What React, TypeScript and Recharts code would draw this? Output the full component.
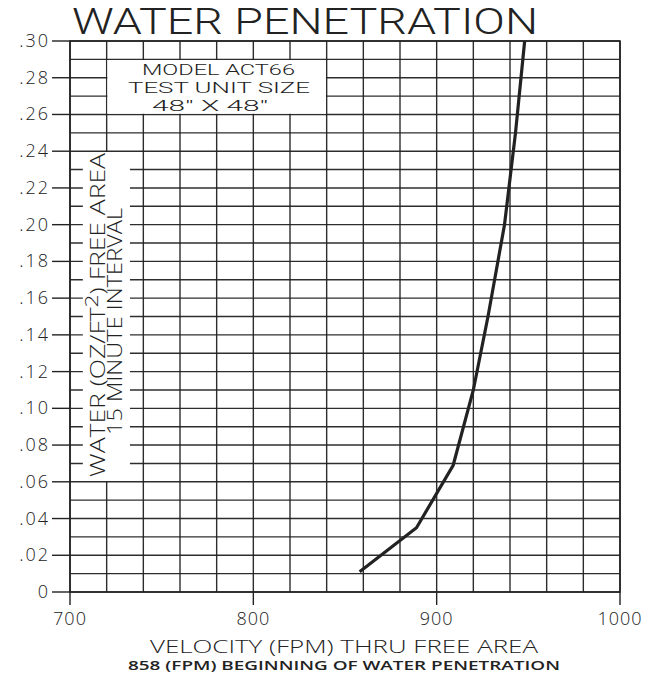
import { LineChart, Line, XAxis, YAxis, CartesianGrid, ReferenceArea } from "recharts";

// curve
const velocity = [858, 889, 909, 920, 928, 937, 943, 946, 948];
const water = [0.011, 0.035, 0.069, 0.11, 0.15, 0.2, 0.25, 0.28, 0.3];

// grid ticks (every 20 FPM / every .01)
const xTicks = [700, 720, 740, 760, 780, 800, 820, 840, 860, 880, 900, 920, 940, 960, 980, 1000];
const xLabels = [700, 800, 900, 1000];
const yTicks = [
  0, 0.01, 0.02, 0.03, 0.04, 0.05, 0.06, 0.07, 0.08, 0.09, 0.1, 0.11, 0.12, 0.13, 0.14, 0.15,
  0.16, 0.17, 0.18, 0.19, 0.2, 0.21, 0.22, 0.23, 0.24, 0.25, 0.26, 0.27, 0.28, 0.29, 0.3,
];

const data = velocity.map((v, i) => ({ velocity: v, water: water[i] }));

const INK = "#222";
const FONT = "'Open Sans', 'DejaVu Sans'";
const TIGHT = "Roboto, 'Open Sans'";

const XTick = (props: any) => {
  const { x, y, payload } = props;
  if (!xLabels.includes(payload.value)) return <g />;
  return (
    <g>
      <line x1={x} x2={x} y1={y} y2={y + 13} stroke={INK} strokeWidth={1.4} />
      <text x={x} y={y + 33} textAnchor="middle" fontFamily={FONT} fontWeight={300} fontSize={18} fill={INK} letterSpacing={1}>
        {payload.value}
      </text>
    </g>
  );
};

const YTick = (props: any) => {
  const { x, y, payload } = props;
  const v = payload.value;
  if (Math.round(v * 100) % 2 !== 0) return <g />;
  const label = v === 0 ? "0" : v.toFixed(2).slice(1);
  return (
    <g>
      <line x1={x - 18} x2={x} y1={y} y2={y} stroke={INK} strokeWidth={1.4} />
      <text x={x - 20} y={y + 6} textAnchor="end" fontFamily={FONT} fontWeight={300} fontSize={18} fill={INK} letterSpacing={2}>
        {label}
      </text>
    </g>
  );
};

// text laid over the chart in its own svg
const Annotations = () => (
  <svg width={660} height={679} style={{ position: "absolute", left: 0, top: 0, pointerEvents: "none" }}>
    <g fontFamily={FONT} fill={INK} fontWeight={300}>
      <text x={72} y={34} fontFamily={TIGHT} fontSize={36} textLength={466} lengthAdjust="spacingAndGlyphs">
        WATER PENETRATION
      </text>
      <text x={142} y={75} fontFamily={TIGHT} fontSize={15} textLength={153} lengthAdjust="spacingAndGlyphs">MODEL ACT66</text>
      <text x={128} y={93} fontFamily={TIGHT} fontSize={15} textLength={182} lengthAdjust="spacingAndGlyphs">TEST UNIT SIZE</text>
      <text x={152} y={111} fontFamily={TIGHT} fontSize={15} textLength={116} lengthAdjust="spacingAndGlyphs">48" X 48"</text>
      <text transform="translate(105,477) rotate(-90)" fontSize={21} textLength={324} lengthAdjust="spacingAndGlyphs">
        WATER (OZ/FT<tspan dy={-7} fontSize={18}>2</tspan><tspan dy={7}>) FREE AREA</tspan>
      </text>
      <text transform="translate(122,435) rotate(-90)" fontSize={21} textLength={227} lengthAdjust="spacingAndGlyphs">
        15 MINUTE INTERVAL
      </text>
      <text x={150} y={653} fontSize={18} textLength={388} lengthAdjust="spacingAndGlyphs">
        VELOCITY (FPM) THRU FREE AREA
      </text>
      <text x={128} y={670} fontSize={12} fontWeight={600} textLength={432} lengthAdjust="spacingAndGlyphs">
        858 (FPM) BEGINNING OF WATER PENETRATION
      </text>
    </g>
  </svg>
);

export default function App() {
  return (
    <div style={{ position: "relative", width: 660, height: 679, background: "#fff" }}>
      <style>{`body{margin:0}`}</style>
      <LineChart width={660} height={679} data={data} margin={{ top: 41, right: 40, bottom: 0, left: 8 }}>
        <CartesianGrid stroke={INK} strokeWidth={1.4} strokeOpacity={0.95} />
        <XAxis
          dataKey="velocity"
          type="number"
          domain={[700, 1000]}
          ticks={xTicks}
          interval={0}
          height={87}
          tickSize={0}
          tickMargin={0}
          axisLine={false}
          tickLine={false}
          tick={<XTick />}
        />
        <YAxis
          type="number"
          domain={[0, 0.3]}
          ticks={yTicks}
          interval={0}
          width={62}
          tickSize={0}
          tickMargin={0}
          axisLine={false}
          tickLine={false}
          tick={<YTick />}
        />
        <ReferenceArea x1={720.4} x2={839.6} y1={0.2604} y2={0.2896} fill="#fff" fillOpacity={1} stroke="none" />
        <ReferenceArea x1={707} x2={732.7} y1={0.0604} y2={0.2396} fill="#fff" fillOpacity={1} stroke="none" />
        <ReferenceArea x1={700} x2={1000} y1={0} y2={0.3} fill="none" stroke={INK} strokeWidth={1.6} />
        <Line
          type="linear"
          dataKey="water"
          stroke={INK}
          strokeWidth={3.2}
          dot={false}
          isAnimationActive={false}
        />
      </LineChart>
      <Annotations />
    </div>
  );
}
